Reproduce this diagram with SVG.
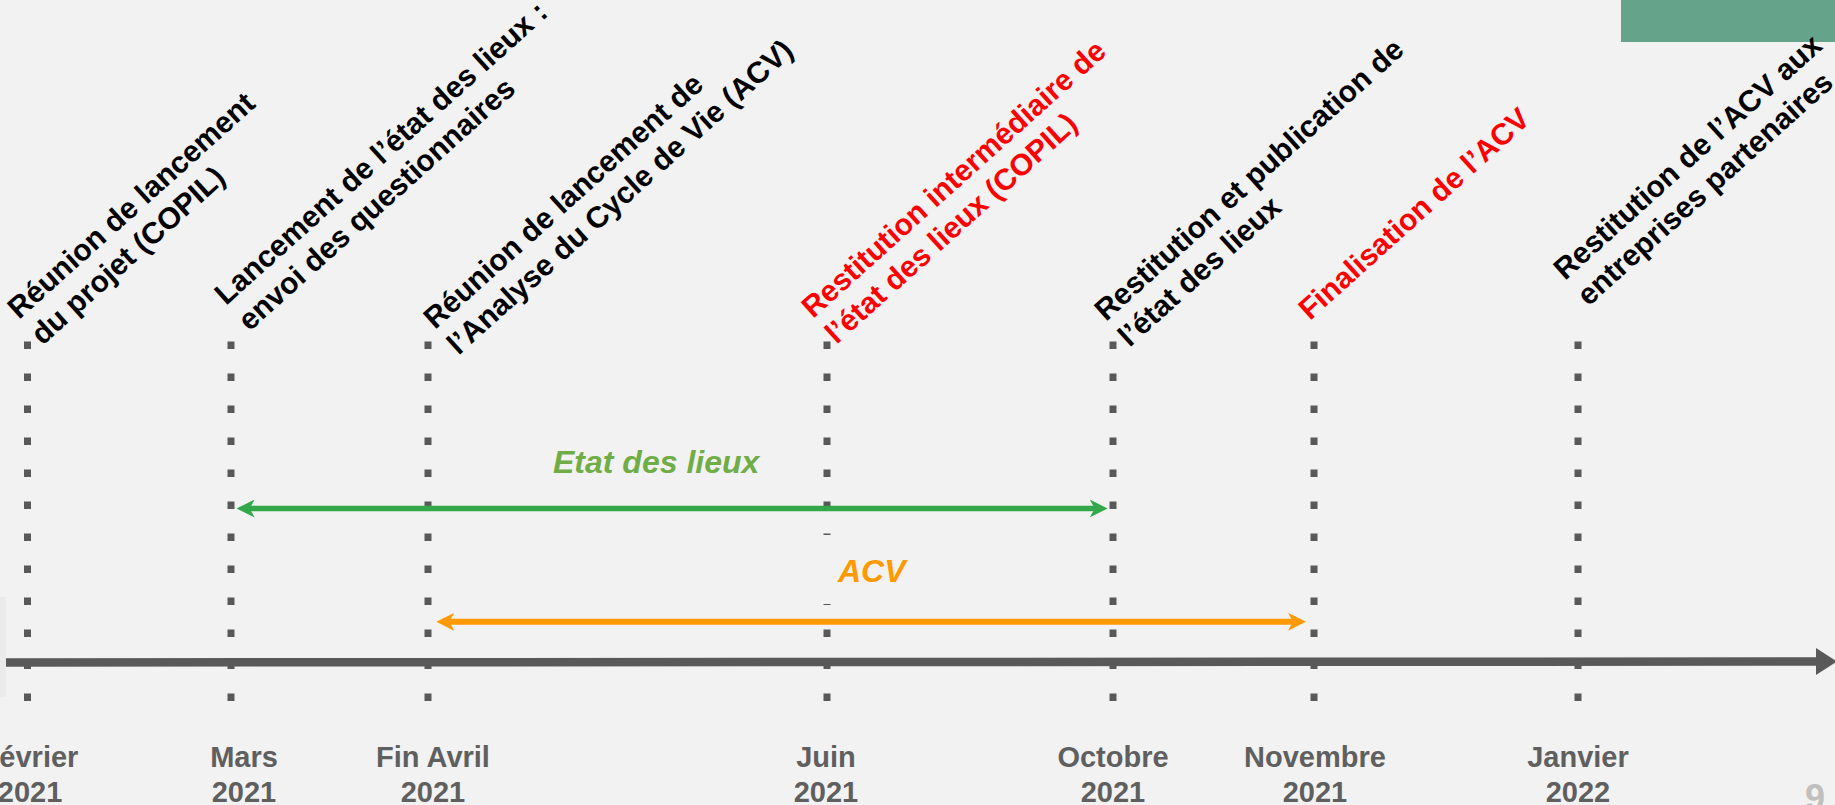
<svg xmlns="http://www.w3.org/2000/svg" width="1835" height="805" viewBox="0 0 1835 805">
<style>
text{font-family:"Liberation Sans",Arial,sans-serif;font-weight:bold}
.lab{font-size:30px;fill:#000}
.red{fill:#ff0000}
.date{font-size:29px;fill:#5f5f5f;text-anchor:middle}
.dots{stroke:#595959;stroke-width:7;stroke-dasharray:7.5 24.5;fill:none}
.period{font-size:32px;font-style:italic}
</style>
<defs>
<marker id="ahG" viewBox="0 0 18 18" refX="8" refY="9" markerWidth="18" markerHeight="18" markerUnits="userSpaceOnUse" orient="auto-start-reverse"><path d="M0,0 L18,9 L0,18 L5,9 z" fill="#33a84a"/></marker>
<marker id="ahO" viewBox="0 0 18 18" refX="8" refY="9" markerWidth="18" markerHeight="18" markerUnits="userSpaceOnUse" orient="auto-start-reverse"><path d="M0,0 L18,9 L0,18 L5,9 z" fill="#ff9900"/></marker>
</defs>
<rect width="1835" height="805" fill="#f2f2f2"/>
<rect x="0" y="597" width="6" height="100" fill="#ebebeb"/>
<rect x="1621" y="0" width="214" height="42" fill="#66a38b"/>

<g id="gridlines">
<line class="dots" x1="27.5" y1="341.5" x2="27.5" y2="702"/>
<line class="dots" x1="231" y1="341.5" x2="231" y2="702"/>
<line class="dots" x1="428" y1="341.5" x2="428" y2="702"/>
<line class="dots" x1="827" y1="341.5" x2="827" y2="702"/>
<line class="dots" x1="1113" y1="341.5" x2="1113" y2="702"/>
<line class="dots" x1="1314" y1="341.5" x2="1314" y2="702"/>
<line class="dots" x1="1578" y1="341.5" x2="1578" y2="702"/>
</g>

<g id="connectors">
<line x1="6" y1="662.5" x2="1820" y2="661.5" stroke="#595959" stroke-width="8.5"/>
<polygon points="1816,648 1837,661.5 1816,675" fill="#595959"/>
<line x1="246.7" y1="508.5" x2="1097.7" y2="508.5" stroke="#33a84a" stroke-width="5.5" marker-start="url(#ahG)" marker-end="url(#ahG)"/>
<line x1="446.3" y1="621.8" x2="1296" y2="621.8" stroke="#ff9900" stroke-width="6" marker-start="url(#ahO)" marker-end="url(#ahO)"/>
</g>

<g id="period-etat"><text class="period" x="553" y="473" fill="#70ad47">Etat des lieux</text></g>
<g id="period-acv">
<rect x="815" y="535" width="100" height="69" fill="#f2f2f2"/>
<text class="period" x="838" y="582" fill="#ff9900">ACV</text>
</g>

<g id="m1"><text class="lab" transform="translate(19,320) rotate(-42)"><tspan x="0" y="0">Réunion de lancement</tspan><tspan x="0" dy="35">du projet (COPIL)</tspan></text>
<text class="date" x="30" y="767"><tspan x="30">Février</tspan><tspan x="30" dy="34.5">2021</tspan></text></g>
<g id="m2"><text class="lab" transform="translate(226,306) rotate(-42)"><tspan x="0" y="0">Lancement de l’état des lieux :</tspan><tspan x="0" dy="35">envoi des questionnaires</tspan></text>
<text class="date" x="244" y="767"><tspan x="244">Mars</tspan><tspan x="244" dy="34.5">2021</tspan></text></g>
<g id="m3"><text class="lab" transform="translate(435,330) rotate(-42)"><tspan x="0" y="0">Réunion de lancement de</tspan><tspan x="0" dy="35">l’Analyse du Cycle de Vie (ACV)</tspan></text>
<text class="date" x="433" y="767"><tspan x="433">Fin Avril</tspan><tspan x="433" dy="34.5">2021</tspan></text></g>
<g id="m4"><text class="lab red" transform="translate(813,319) rotate(-42)"><tspan x="0" y="0">Restitution intermédiaire de</tspan><tspan x="0" dy="35">l’état des lieux (COPIL)</tspan></text>
<text class="date" x="826" y="767"><tspan x="826">Juin</tspan><tspan x="826" dy="34.5">2021</tspan></text></g>
<g id="m5"><text class="lab" transform="translate(1106,322) rotate(-42)"><tspan x="0" y="0">Restitution et publication de</tspan><tspan x="0" dy="35">l’état des lieux</tspan></text>
<text class="date" x="1113" y="767"><tspan x="1113">Octobre</tspan><tspan x="1113" dy="34.5">2021</tspan></text></g>
<g id="m6"><text class="lab red" transform="translate(1310,321) rotate(-42)">Finalisation de l’ACV</text>
<text class="date" x="1315" y="767"><tspan x="1315">Novembre</tspan><tspan x="1315" dy="34.5">2021</tspan></text></g>
<g id="m7"><text class="lab" transform="translate(1565,281) rotate(-42)"><tspan x="0" y="0">Restitution de l’ACV aux</tspan><tspan x="0" dy="35">entreprises partenaires</tspan></text>
<text class="date" x="1578" y="767"><tspan x="1578">Janvier</tspan><tspan x="1578" dy="34.5">2022</tspan></text></g>
<g id="page"><text x="1805" y="810" font-size="36" fill="#bfbfbf">9</text></g>
</svg>
